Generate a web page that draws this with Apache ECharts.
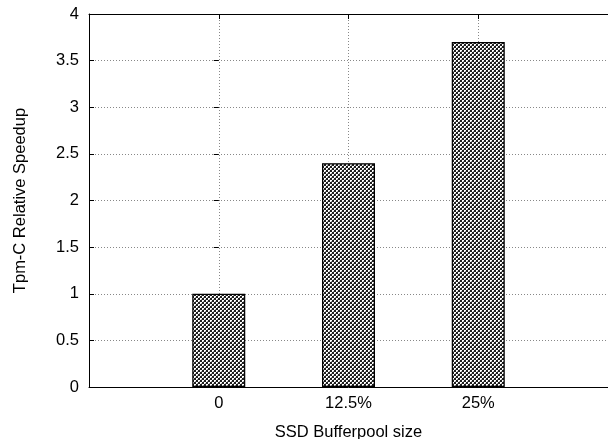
<!DOCTYPE html>
<html><head><meta charset="utf-8">
<script src="https://cdn.jsdelivr.net/npm/echarts@6/dist/echarts.min.js"></script>
<style>html,body{margin:0;padding:0;background:#fff}#c{width:608px;height:439px}</style>
</head><body><div id="c"></div>
<script>
const categories = ['0', '12.5%', '25%'];
const speedup = [1, 2.4, 3.7];
const yTicks = [0, 0.5, 1, 1.5, 2, 2.5, 3, 3.5, 4];

const tile = document.createElement('canvas');
tile.width = 4; tile.height = 4;
const tc = tile.getContext('2d');
tc.fillStyle = '#fff'; tc.fillRect(0, 0, 4, 4);
tc.fillStyle = '#1e1e1e';
tc.fillRect(0, 0, 2, 2);
tc.fillRect(2, 2, 2, 2);
tc.fillStyle = '#9a9a9a';
tc.fillRect(3, 1, 1, 1);
tc.fillRect(1, 3, 1, 1);

const font = 'Liberation Sans';
const fs = 16.5;
const chart = echarts.init(document.getElementById('c'), null, {renderer: 'canvas'});
const splitDotted = {show: true, lineStyle: {color: '#888', type: [1, 2], width: 1}};
chart.setOption({
  animation: false,
  grid: {left: 89, right: 0, top: 14, bottom: 52, containLabel: false, outerBoundsMode: 'none'},
  xAxis: [{
    type: 'value', min: -1, max: 3, interval: 1,
    axisLine: {show: true, onZero: false, lineStyle: {color: '#000', width: 1}},
    axisTick: {show: true, inside: true, length: 5, lineStyle: {color: '#000'}},
    axisLabel: {color: '#000', fontFamily: font, fontSize: fs, margin: 8,
      formatter: v => (v >= 0 && v < categories.length) ? categories[v] : ''},
    splitLine: splitDotted,
    name: 'SSD Bufferpool size', nameLocation: 'middle', nameGap: 37,
    nameTextStyle: {color: '#000', fontFamily: font, fontSize: fs}
  }, {
    type: 'value', position: 'top', min: -1, max: 3, interval: 1,
    axisLine: {show: true, onZero: false, lineStyle: {color: '#000', width: 1}},
    axisTick: {show: true, inside: true, length: 5, lineStyle: {color: '#000'}},
    axisLabel: {show: false}, splitLine: {show: false}
  }],
  yAxis: [{
    type: 'value', min: 0, max: 4, interval: 0.5,
    axisLine: {show: true, onZero: false, lineStyle: {color: '#000', width: 1}},
    axisTick: {show: true, inside: true, length: 5, lineStyle: {color: '#000'}},
    axisLabel: {color: '#000', fontFamily: font, fontSize: fs, margin: 10,
      formatter: v => yTicks.includes(v) ? String(v) : ''},
    splitLine: splitDotted,
    name: 'Tpm-C Relative Speedup', nameLocation: 'middle', nameGap: 60,
    nameTextStyle: {color: '#000', fontFamily: font, fontSize: fs}
  }, {
    type: 'value', position: 'right', min: 0, max: 4, interval: 0.5,
    axisLine: {show: false},
    axisTick: {show: true, inside: true, length: 5, lineStyle: {color: '#000'}},
    axisLabel: {show: false}, splitLine: {show: false}
  }],
  series: [{
    type: 'bar', barWidth: 53,
    data: speedup.map((v, i) => [i, v]),
    itemStyle: {color: {image: tile, repeat: 'repeat'}, borderColor: '#000', borderWidth: 1.2}
  }]
});
</script></body></html>
